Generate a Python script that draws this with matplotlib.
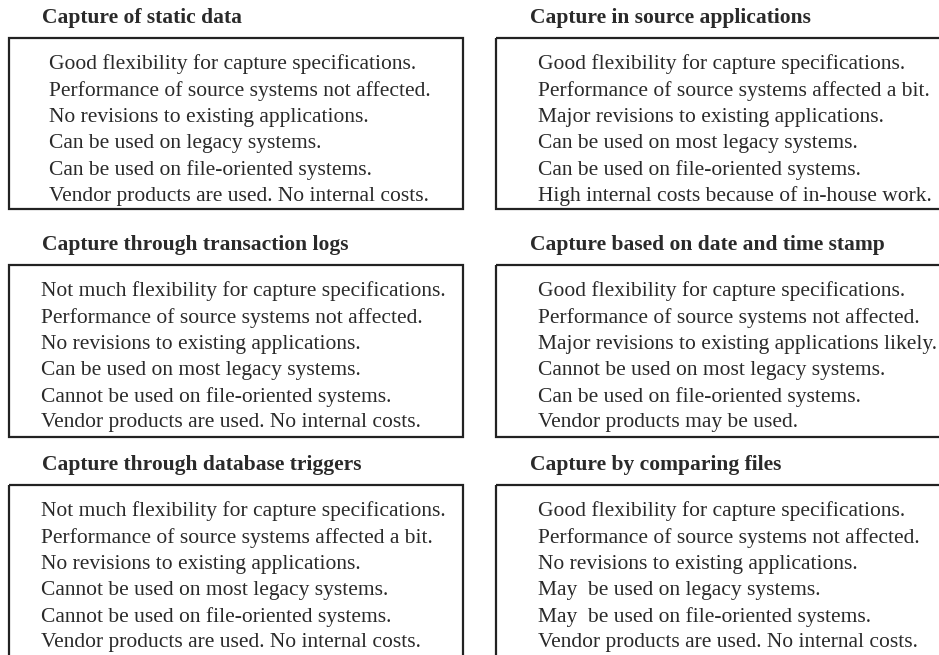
import matplotlib.pyplot as plt
from matplotlib.patches import Rectangle

# panel titles and contents (left column then right column, row by row)
titles = [
    "Capture of static data",
    "Capture in source applications",
    "Capture through transaction logs",
    "Capture based on date and time stamp",
    "Capture through database triggers",
    "Capture by comparing files",
]

static_data = [
    "Good flexibility for capture specifications.",
    "Performance of source systems not affected.",
    "No revisions to existing applications.",
    "Can be used on legacy systems.",
    "Can be used on file-oriented systems.",
    "Vendor products are used. No internal costs.",
]
source_apps = [
    "Good flexibility for capture specifications.",
    "Performance of source systems affected a bit.",
    "Major revisions to existing applications.",
    "Can be used on most legacy systems.",
    "Can be used on file-oriented systems.",
    "High internal costs because of in-house work.",
]
transaction_logs = [
    "Not much flexibility for capture specifications.",
    "Performance of source systems not affected.",
    "No revisions to existing applications.",
    "Can be used on most legacy systems.",
    "Cannot be used on file-oriented systems.",
    "Vendor products are used. No internal costs.",
]
date_time_stamp = [
    "Good flexibility for capture specifications.",
    "Performance of source systems not affected.",
    "Major revisions to existing applications likely.",
    "Cannot be used on most legacy systems.",
    "Can be used on file-oriented systems.",
    "Vendor products may be used.",
]
db_triggers = [
    "Not much flexibility for capture specifications.",
    "Performance of source systems affected a bit.",
    "No revisions to existing applications.",
    "Cannot be used on most legacy systems.",
    "Cannot be used on file-oriented systems.",
    "Vendor products are used. No internal costs.",
]
comparing_files = [
    "Good flexibility for capture specifications.",
    "Performance of source systems not affected.",
    "No revisions to existing applications.",
    "May  be used on legacy systems.",
    "May  be used on file-oriented systems.",
    "Vendor products are used. No internal costs.",
]
contents = [static_data, source_apps, transaction_logs,
            date_time_stamp, db_triggers, comparing_files]

W, H = 939, 655
fig = plt.figure(figsize=(W / 100, H / 100), dpi=100)
ax = fig.add_axes([0, 0, 1, 1])
ax.set_xlim(0, W)
ax.set_ylim(H, 0)
ax.axis('off')

font = 'Liberation Serif'
row_tops = [38, 265, 485]
box_heights = [171, 172, 200]   # last row runs off the bottom
col_box = [(9, 463), (496, 960)]
col_title_x = [42, 530]
col_text_x = [[49, 41, 41], [538, 538, 538]]
line_gap = 26.3

for i, (title, lines) in enumerate(zip(titles, contents)):
    row, col = i // 2, i % 2
    top = row_tops[row]
    x0, x1 = col_box[col]
    ax.text(col_title_x[col], top - 20, title, fontsize=15.5, fontweight='bold',
            family=font, color='#2a2a2a', va='center', ha='left')
    ax.add_patch(Rectangle((x0, top), x1 - x0, box_heights[row], fill=False,
                           edgecolor='#222222', lw=1.6, clip_on=True))
    for k, line in enumerate(lines):
        ax.text(col_text_x[col][row], top + 26.5 + k * line_gap, line,
                fontsize=15.5, family=font, color='#2a2a2a',
                va='center', ha='left')

fig.savefig('out.png', dpi=100)
